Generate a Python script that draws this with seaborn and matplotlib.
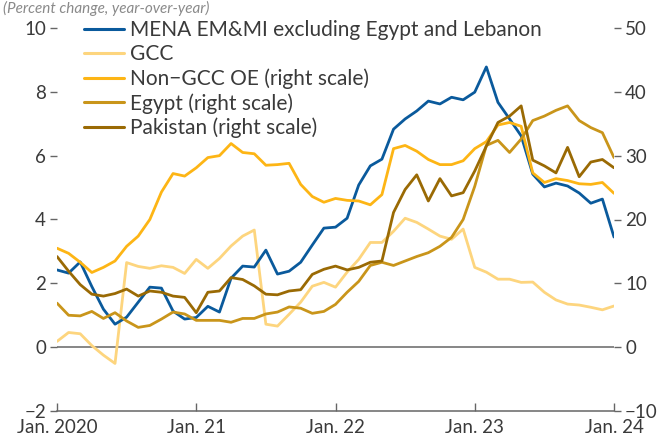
import numpy as np
import pandas as pd
import matplotlib
matplotlib.use("Agg")
import matplotlib.pyplot as plt
import seaborn as sns

# monthly, Jan. 2020 .. Jan. 2024
months = pd.date_range("2020-01-01", "2024-01-01", freq="MS")

# left scale (percent change, y/y)
mena = [2.42, 2.32, 2.67, 1.9, 1.19, 0.72, 0.94, 1.41, 1.88, 1.85, 1.13, 0.88,
        0.93, 1.28, 1.1, 2.16, 2.54, 2.51, 3.04, 2.29, 2.38, 2.66, 3.2, 3.73,
        3.76, 4.04, 5.08, 5.68, 5.89, 6.83, 7.15, 7.4, 7.71, 7.62, 7.83, 7.75,
        7.99, 8.78, 7.67, 7.15, 6.62, 5.42, 5.02, 5.14, 5.05, 4.83, 4.51, 4.64,
        3.45]
gcc = [0.18, 0.46, 0.42, 0.05, -0.25, -0.51, 2.65, 2.53, 2.47, 2.55, 2.5, 2.31,
       2.75, 2.47, 2.78, 3.17, 3.48, 3.67, 0.72, 0.66, 1.03, 1.41, 1.91, 2.03,
       1.88, 2.35, 2.75, 3.28, 3.28, 3.63, 4.04, 3.91, 3.7, 3.48, 3.38, 3.7,
       2.5, 2.35, 2.13, 2.13, 2.03, 2.04, 1.72, 1.48, 1.35, 1.32, 1.25, 1.17,
       1.29]

# right scale
non_gcc = [15.5, 14.7, 13.3, 11.7, 12.5, 13.5, 15.8, 17.4, 20.0, 24.3, 27.2, 26.8,
           28.1, 29.7, 30.0, 31.9, 30.5, 30.3, 28.5, 28.6, 28.8, 25.5, 23.6, 22.7,
           23.3, 23.0, 22.9, 22.3, 23.9, 31.1, 31.6, 30.7, 29.4, 28.6, 28.6, 29.2,
           31.1, 32.2, 34.8, 35.2, 34.6, 27.3, 25.8, 26.4, 26.1, 25.6, 25.5, 25.8,
           24.1]
egypt = [6.9, 5.0, 4.9, 5.6, 4.5, 5.4, 4.1, 3.1, 3.4, 4.4, 5.5, 5.2,
         4.2, 4.2, 4.2, 3.9, 4.5, 4.5, 5.2, 5.5, 6.3, 6.1, 5.3, 5.6,
         6.7, 8.6, 10.3, 12.8, 13.3, 12.8, 13.5, 14.2, 14.8, 15.8, 17.2, 20.0,
         25.2, 31.6, 32.4, 30.5, 32.6, 35.5, 36.2, 37.1, 37.8, 35.5, 34.4, 33.6,
         29.7]
pakistan = [14.2, 11.9, 9.8, 8.3, 8.0, 8.4, 9.1, 8.0, 8.8, 8.6, 8.0, 7.8,
            5.4, 8.6, 8.8, 10.9, 10.6, 9.6, 8.3, 8.2, 8.8, 9.0, 11.4, 12.2,
            12.7, 12.1, 12.5, 13.3, 13.5, 21.1, 24.7, 27.0, 22.9, 26.4, 23.7, 24.2,
            27.6, 31.5, 35.2, 36.2, 37.8, 29.3, 28.4, 27.3, 31.3, 26.7, 29.0, 29.4,
            28.1]

tick_months = [0, 12, 24, 36, 48]
tick_labels = ["Jan. 2020", "Jan. 21", "Jan. 22", "Jan. 23", "Jan. 24"]

names_left = ["MENA EM&MI excluding Egypt and Lebanon", "GCC"]
names_right = ["Non\u2212GCC OE (right scale)", "Egypt (right scale)", "Pakistan (right scale)"]
colors = ["#0a5a9c", "#fdd57e", "#fdb515", "#c9951a", "#9a6a04"]
pal = dict(zip(names_left + names_right, colors))

t = np.arange(len(months))
df_left = pd.DataFrame({"t": t, names_left[0]: mena, names_left[1]: gcc}).melt("t", var_name="series", value_name="val")
df_right = pd.DataFrame({"t": t, names_right[0]: non_gcc, names_right[1]: egypt,
                         names_right[2]: pakistan}).melt("t", var_name="series", value_name="val")

sns.set_style("white")
plt.rcParams["font.family"] = ["Lato", "DejaVu Sans"]
txt = "#3a3a3a"
grey = "#666666"
fs = 13.5

fig = plt.figure(figsize=(6.65, 4.43), dpi=100)
ax = fig.add_axes([57/665, 1-411/443, (614-57)/665, (411-28)/443])
ax2 = ax.twinx()

ax.axhline(0, color=grey, lw=1.1, zorder=1)
# GCC first so the blue line sits on top
sns.lineplot(data=df_left, x="t", y="val", hue="series", palette=pal,
             hue_order=names_left[::-1], lw=2, ax=ax, legend=False)
sns.lineplot(data=df_right, x="t", y="val", hue="series", palette=pal,
             hue_order=names_right, lw=2, ax=ax2, legend=False)

ax.set_xlim(0, 48)
ax.set_ylim(-2, 10)
ax2.set_ylim(-10, 50)
ax.set_yticks(range(-2, 11, 2))
ax.set_yticklabels([str(v).replace("-", "\u2212") for v in range(-2, 11, 2)])
ax2.set_yticks(range(-10, 51, 10))
ax2.set_yticklabels([str(v).replace("-", "\u2212") for v in range(-10, 51, 10)])
ax.set_xticks(tick_months)
ax.set_xticklabels(tick_labels)
ax.set_xlabel("")
ax.set_ylabel("")
ax2.set_ylabel("")

for a in (ax, ax2):
    for s in a.spines.values():
        s.set_visible(False)
ax.spines["bottom"].set_visible(True)
ax.spines["bottom"].set_color(grey)
ax.spines["bottom"].set_linewidth(1.1)

ax.tick_params(axis="y", direction="out", length=5, width=1, color=grey, pad=3,
               labelsize=fs, labelcolor=txt, left=True)
ax2.tick_params(axis="y", direction="out", length=5, width=1, color=grey, pad=3,
                labelsize=fs, labelcolor=txt, right=True)
ax.tick_params(axis="x", direction="in", length=6, width=1, color=grey, pad=6,
               labelsize=fs, labelcolor=txt, bottom=True)

# legend in the original order
handles = [plt.Line2D([], [], color=c, lw=2.2) for c in colors]
labels = names_left + names_right
ax2.legend(handles, labels, loc="upper left", bbox_to_anchor=(84/665, 1-20/443),
           bbox_transform=fig.transFigure, frameon=False, fontsize=15,
           handlelength=1.9, handletextpad=0.3, labelspacing=0.2,
           borderpad=0, borderaxespad=0, labelcolor=txt)

fig.text(0.004, 1-1/443, "(Percent change, year-over-year)", style="italic",
         color="#8a8a8a", fontsize=11, va="top", ha="left")

fig.savefig("out.png", dpi=100)
